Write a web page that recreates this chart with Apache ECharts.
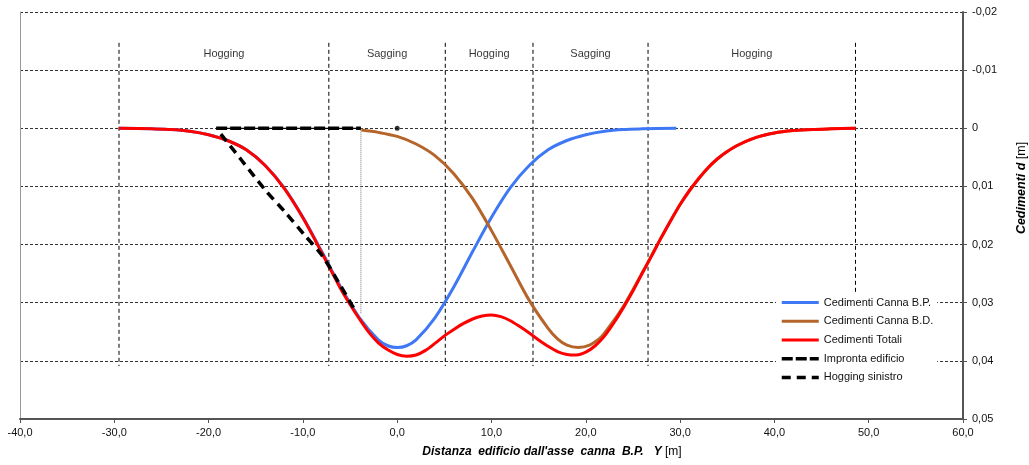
<!DOCTYPE html>
<html><head><meta charset="utf-8">
<script src="https://cdn.jsdelivr.net/npm/echarts@6/dist/echarts.min.js"></script>
<style>html,body{margin:0;padding:0;background:#fff}#c{width:1029px;height:465px}</style>
</head><body><div id="c"></div>
<script>
// ---- data ----
const blueX = [-29.5,-26,-24,-22,-20,-18,-16,-14,-12,-10,-8,-6,-4,-2,-1,0,1,2,4,6,8,10,12,14,16,18,20,22,24,26,29.6];
const blueY = [0,0.0001,0.0002,0.0005,0.0011,0.0021,0.0037,0.0064,0.0102,0.0153,0.0212,0.0273,0.0326,0.0364,0.0374,0.0377,0.0374,0.0364,0.0326,0.0273,0.0212,0.0153,0.0102,0.0064,0.0037,0.0021,0.0011,0.0005,0.0002,0.0001,0];

const brownX = [-3.8,-2,0,2,4,6,8,10,12,14,16,17,18,19.2,20.4,21.5,22,24,26,28,30,32,34,36,38,40,42,44,46,48.6];
const brownY = [0.0003,0.0007,0.0014,0.0027,0.0047,0.0078,0.0121,0.0176,0.0236,0.0296,0.0344,0.0362,0.0373,0.0377,0.0373,0.0361,0.0352,0.0306,0.0248,0.0188,0.0131,0.0086,0.0052,0.0030,0.0016,0.0008,0.0004,0.0002,0.0001,0];

const redX = [-29.5,-26,-24,-22,-20,-18,-16,-14,-12,-10,-8,-7,-6,-5,-4,-3,-2,-1,0,1,2,3,4,5,6,7,8,9,10,11,12,13,14,15,16,17,18,19,20,21,22,23,24,25,26,27,28,29,30,31,32,33,34,35,36,38,40,42,44,46,48.6];
const redY = [0,0.0001,0.0002,0.0005,0.0011,0.0021,0.0037,0.0064,0.0103,0.0154,0.0214,0.0245,0.0276,0.0303,0.0328,0.0351,0.0369,0.0381,0.0389,0.0392,0.0390,0.0382,0.0370,0.0357,0.0346,0.0336,0.0328,0.0323,0.0321,0.0324,0.0331,0.0341,0.0352,0.0364,0.0375,0.0384,0.0389,0.0390,0.0385,0.0374,0.0357,0.0334,0.0308,0.0280,0.0249,0.0219,0.0188,0.0159,0.0131,0.0107,0.0086,0.0067,0.0052,0.0040,0.0030,0.0016,0.0008,0.0004,0.0002,0.0001,0];

const hogX = [-18.7,-16.5,-14.0,-11.9,-9.8,-8.0,-6.25,-4.45];
const hogY = [0.0010,0.0055,0.0106,0.0144,0.0184,0.0218,0.0264,0.0314];

const improntaX = [-19.2,-3.85];
const improntaY = [0,0];

const edgeX = [-3.85,-3.85];
const edgeY = [0,0.0318];

const axisPoint = [[0,0]];

const regionBounds = [-29.5,-7.25,5.1,14.4,26.6,48.6];
const regionLabels = ['Hogging','Sagging','Hogging','Sagging','Hogging'];
const regionLineTop = -0.0147, regionLineBottom = 0.0409, regionLabelY = -0.0128;

const seriesNames = ['Cedimenti Canna B.P.','Cedimenti Canna B.D.','Cedimenti Totali','Impronta edificio','Hogging sinistro'];

// ---- build ----
const zip = (xs, ys) => xs.map((x, i) => [x, ys[i]]);
const FONT = 'Liberation Sans, Arial, sans-serif';
const fmtComma = (v, d) => {
  const r = Math.round(v * 1e6) / 1e6;
  return (d !== undefined ? r.toFixed(d) : String(r)).replace('.', ',');
};

const regionSeries = regionBounds.map(x => ({
  type: 'line', silent: true, symbol: 'none', z: 1,
  data: [[x, regionLineTop], [x, regionLineBottom]],
  lineStyle: { color: '#000', width: 1, type: [4, 3] }
}));

const labelData = regionLabels.map((t, i) => ({
  value: [(regionBounds[i] + regionBounds[i + 1]) / 2, regionLabelY], name: t
}));

const chart = echarts.init(document.getElementById('c'), null, { renderer: 'canvas' });
chart.setOption({
  animation: false,
  backgroundColor: '#fff',
  textStyle: { fontFamily: FONT },
  grid: { left: 20, right: 66, top: 12, bottom: 46, containLabel: false },
  legend: {
    data: seriesNames,
    orient: 'vertical', left: 776, top: 293,
    padding: [4, 4], itemWidth: 37, itemHeight: 14, itemGap: 7.5,
    backgroundColor: '#fff',
    itemStyle: { opacity: 0 },
    lineStyle: { width: 'inherit' },
    textStyle: { fontSize: 11, color: '#111', fontFamily: FONT },
    selectedMode: false
  },
  xAxis: {
    type: 'value', min: -40, max: 60, interval: 10,
    axisLine: { show: true, onZero: false, lineStyle: { color: '#555', width: 2 } },
    axisTick: { show: true, length: 4, lineStyle: { color: '#555' } },
    axisLabel: { fontSize: 11, color: '#111', margin: 8, formatter: v => fmtComma(v, 1) },
    splitLine: { show: false }
  },
  yAxis: [{
    type: 'value', position: 'right', inverse: true,
    min: -0.02, max: 0.05, interval: 0.01,
    axisLine: { show: true, onZero: false, lineStyle: { color: '#555', width: 2 } },
    axisTick: { show: true, length: 4, lineStyle: { color: '#555' } },
    axisLabel: { fontSize: 11, color: '#111', margin: 9, formatter: v => fmtComma(v) },
    splitLine: { show: true, lineStyle: { color: '#333', width: 1, type: [3, 2] } }
  }, {
    type: 'value', position: 'left', inverse: true,
    min: -0.02, max: 0.05, interval: 0.01,
    axisLine: { show: true, onZero: false, lineStyle: { color: '#999', width: 1 } },
    axisTick: { show: false }, axisLabel: { show: false }, splitLine: { show: false }
  }],
  graphic: [{
    type: 'text', x: 552, y: 452,
    style: {
      text: "{b|Distanza  edificio dall'asse  canna  B.P.   Y} {n|[m]}",
      align: 'center', verticalAlign: 'middle',
      rich: {
        b: { fontFamily: FONT, fontSize: 12, fontWeight: 'bold', fontStyle: 'italic', fill: '#000' },
        n: { fontFamily: FONT, fontSize: 12, fill: '#000' }
      }
    }
  }, {
    type: 'text', x: 1022, y: 188, rotation: Math.PI / 2,
    style: {
      text: '{b|Cedimenti d} {n|[m]}',
      align: 'center', verticalAlign: 'middle',
      rich: {
        b: { fontFamily: FONT, fontSize: 12.5, fontWeight: 'bold', fontStyle: 'italic', fill: '#000' },
        n: { fontFamily: FONT, fontSize: 12.5, fill: '#000' }
      }
    }
  }],
  series: [
    ...regionSeries,
    { name: seriesNames[0], type: 'line', symbol: 'none', smooth: 0.3, z: 3,
      data: zip(blueX, blueY), lineStyle: { color: '#3f78f5', width: 3 }, itemStyle: { color: '#3f78f5' } },
    { name: seriesNames[1], type: 'line', symbol: 'none', smooth: 0.3, z: 3,
      data: zip(brownX, brownY), lineStyle: { color: '#b5652b', width: 3 }, itemStyle: { color: '#b5652b' } },
    { name: seriesNames[2], type: 'line', symbol: 'none', smooth: 0.3, z: 4,
      data: zip(redX, redY), lineStyle: { color: '#ff0000', width: 3 }, itemStyle: { color: '#ff0000' } },
    { name: seriesNames[4], type: 'line', symbol: 'none', smooth: 0.3, z: 5,
      data: zip(hogX, hogY), lineStyle: { color: '#000', width: 3.5, type: [9, 6] }, itemStyle: { color: '#000' } },
    { name: seriesNames[3], type: 'line', symbol: 'none', z: 6,
      data: zip(improntaX, improntaY), lineStyle: { color: '#000', width: 3.5, type: [11, 3] }, itemStyle: { color: '#000' } },
    { name: '_impronta', type: 'line', symbol: 'none', z: 6, silent: true,
      data: zip(improntaX, improntaY), lineStyle: { color: '#000', width: 1.2 } },
    { name: '_edge', type: 'line', symbol: 'none', z: 2, silent: true,
      data: zip(edgeX, edgeY), lineStyle: { color: '#777', width: 1, type: 'dotted' } },
    { name: '_dot', type: 'scatter', symbol: 'circle', symbolSize: 5, z: 6, silent: true,
      data: axisPoint, itemStyle: { color: '#000' } },
    { name: '_labels', type: 'scatter', symbolSize: 1, z: 6, silent: true,
      data: labelData, itemStyle: { color: 'rgba(0,0,0,0)' },
      label: { show: true, position: 'inside', formatter: p => p.name, fontSize: 11, color: '#000', fontFamily: FONT } }
  ]
});
</script></body></html>
